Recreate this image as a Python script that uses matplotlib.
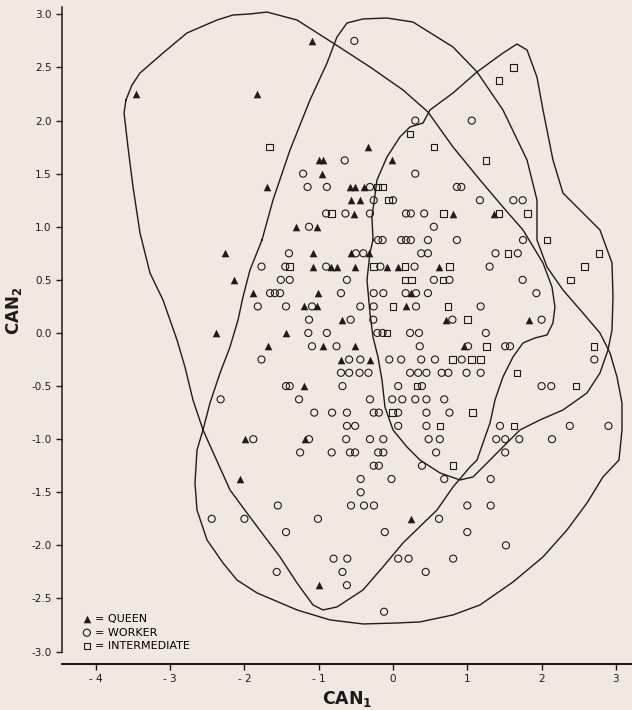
import numpy as np
import matplotlib.pyplot as plt

# canonical scores (CAN1, CAN2)
queen_x = [-3.46, -1.09, -1.83, -0.33, -1.00, -0.94, -0.01, -0.96, -1.69, -0.58, -0.51, -0.39,
           -0.56, -0.44, -0.52, 0.81, 1.36, -1.31, -1.02, -2.26, -1.07, -0.57, -0.32,
           -1.07, -0.83, -0.76, -0.51, -0.085, 0.07, 0.62, -2.14, -1.88, -1.01, 0.24,
           -1.20, -1.02, 0.18, -0.69, 0.72, 1.83, -2.38, -1.44, -1.68, -0.94, -0.51, 0.95,
           -0.70, -0.31, -1.20, -1.99, -1.18, -2.06, 0.24, -1.0]
queen_y = [2.25, 2.75, 2.25, 1.75, 1.625, 1.625, 1.625, 1.5, 1.375, 1.375, 1.375, 1.375,
           1.25, 1.25, 1.125, 1.125, 1.125, 1.0, 1.0, 0.75, 0.75, 0.75, 0.75,
           0.625, 0.625, 0.625, 0.625, 0.625, 0.625, 0.625, 0.5, 0.375, 0.375, 0.375,
           0.25, 0.25, 0.25, 0.125, 0.125, 0.125, 0.0, 0.0, -0.125, -0.125, -0.125, -0.125,
           -0.25, -0.25, -0.5, -1.0, -1.0, -1.375, -1.75, -2.375]

worker_x = [-0.52, 0.30, 1.06, -0.65, -1.21, 0.30,
            -1.15, -0.89, -0.31, 0.86, 0.92,
            -0.26, 0.0, 1.17, 1.62, 1.745,
            -0.90, -0.64, -0.31, 0.175, 0.24, 0.42,
            -1.13, 0.55,
            -0.20, -0.14, 0.11, 0.175, 0.24, 0.47, 0.86, 1.75,
            -1.40, -0.50, -0.40, 0.38, 0.47, 1.38, 1.68,
            -1.77, -1.45, -0.90, -0.17, 0.29, 1.30,
            -1.51, -1.39, -0.62, 0.55, 0.76, 1.745,
            -1.655, -1.59, -1.52, -0.70, -0.26, -0.13, 0.17, 0.31, 0.47, 1.93,
            -1.82, -1.44, -1.09, -0.44, -0.26, 0.31, 1.18,
            -1.13, -0.57, -0.265, 0.80, 2.0,
            -1.14, -0.89, -0.21, -0.14, 0.23, 0.35, 1.25,
            -1.09, -0.76, 0.36, 1.01, 1.51, 1.575,
            -1.77, -0.59, -0.44, -0.05, 0.11, 0.38, 0.565, 0.925, 2.71,
            -0.70, -0.59, -0.45, -0.33, 0.23, 0.34, 0.45, 0.655, 0.745, 0.99, 1.18,
            -1.44, -1.39, -0.68, 0.07, 0.39, 2.0, 2.13,
            -2.32, -1.265, -0.31, -0.01, 0.125, 0.30, 0.45, 0.69,
            -1.06, -0.82, -0.62, -0.26, -0.19, 0.07, 0.45, 0.76,
            -0.62, -0.51, 0.07, 0.45, 1.44, 2.38, 2.90,
            -1.88, -1.13, -0.63, -0.31, -0.13, 0.48, 0.63, 1.39, 1.51, 1.70, 2.14,
            -1.25, -0.825, -0.58, -0.51, -0.20, -0.13, 0.58, 1.51,
            -0.26, -0.19, 0.39,
            -0.435, -0.02, 0.69, 1.315,
            -0.435,
            -1.55, -0.565, -0.39, -0.256, 1.0, 1.315,
            -2.44, -2.0, -1.01, 0.62,
            -1.44, -0.11, 1.0,
            1.52,
            -0.80, -0.615, 0.07, 0.21, 0.81,
            -1.565, -0.68, 0.44,
            -0.62,
            -0.12]
worker_y = [2.75, 2.0, 2.0, 1.625, 1.5, 1.5,
            1.375, 1.375, 1.375, 1.375, 1.375,
            1.25, 1.25, 1.25, 1.25, 1.25,
            1.125, 1.125, 1.125, 1.125, 1.125, 1.125,
            1.0, 1.0,
            0.875, 0.875, 0.875, 0.875, 0.875, 0.875, 0.875, 0.875,
            0.75, 0.75, 0.75, 0.75, 0.75, 0.75, 0.75,
            0.625, 0.625, 0.625, 0.625, 0.625, 0.625,
            0.5, 0.5, 0.5, 0.5, 0.5, 0.5,
            0.375, 0.375, 0.375, 0.375, 0.375, 0.375, 0.375, 0.375, 0.375, 0.375,
            0.25, 0.25, 0.25, 0.25, 0.25, 0.25, 0.25,
            0.125, 0.125, 0.125, 0.125, 0.125,
            0.0, 0.0, 0.0, 0.0, 0.0, 0.0, 0.0,
            -0.125, -0.125, -0.125, -0.125, -0.125, -0.125,
            -0.25, -0.25, -0.25, -0.25, -0.25, -0.25, -0.25, -0.25, -0.25,
            -0.375, -0.375, -0.375, -0.375, -0.375, -0.375, -0.375, -0.375, -0.375, -0.375, -0.375,
            -0.5, -0.5, -0.5, -0.5, -0.5, -0.5, -0.5,
            -0.625, -0.625, -0.625, -0.625, -0.625, -0.625, -0.625, -0.625,
            -0.75, -0.75, -0.75, -0.75, -0.75, -0.75, -0.75, -0.75,
            -0.875, -0.875, -0.875, -0.875, -0.875, -0.875, -0.875,
            -1.0, -1.0, -1.0, -1.0, -1.0, -1.0, -1.0, -1.0, -1.0, -1.0, -1.0,
            -1.125, -1.125, -1.125, -1.125, -1.125, -1.125, -1.125, -1.125,
            -1.25, -1.25, -1.25,
            -1.375, -1.375, -1.375, -1.375,
            -1.5,
            -1.625, -1.625, -1.625, -1.625, -1.625, -1.625,
            -1.75, -1.75, -1.75, -1.75,
            -1.875, -1.875, -1.875,
            -2.0,
            -2.125, -2.125, -2.125, -2.125, -2.125,
            -2.25, -2.25, -2.25,
            -2.375,
            -2.625]

inter_x = [1.62, 1.43, 0.23, -1.66, 0.55, 1.25, -0.21, -0.14, -0.06,
           -0.83, 0.68, 1.43, 1.81, 2.07, 1.55, 2.77,
           -1.39, -0.265, 0.16, 0.76, 2.575, 0.16, 0.25, 0.67, 2.39,
           0.0, 0.74, 1.0, -0.08, 1.26, 2.705, 0.80, 1.06, 1.18, 1.67,
           0.32, 2.46, 1.07, -0.004, 0.63, 1.63, 0.81]
inter_y = [2.5, 2.375, 1.875, 1.75, 1.75, 1.625, 1.375, 1.375, 1.25,
           1.125, 1.125, 1.125, 1.125, 0.875, 0.75, 0.75,
           0.625, 0.625, 0.625, 0.625, 0.625, 0.5, 0.5, 0.5, 0.5,
           0.25, 0.25, 0.125, 0.0, -0.125, -0.125, -0.25, -0.25, -0.25, -0.375,
           -0.5, -0.5, -0.75, -0.75, -0.875, -0.875, -1.25]

# hand-drawn group outlines
queen_hull_x = [-3.594, -3.513, -3.405, -3.096, -2.773, -2.369, -2.153, -1.925, -1.696, -1.292,
                -0.808, -0.310, 0.135, 0.471, 0.808, 1.171, 1.480, 1.750, 2.019, 2.140,
                2.180, 2.153, 2.073, 1.911, 1.750, 1.615, 1.480, 1.373, 1.306, 1.211,
                1.131, 1.036, 0.808, 0.592, 0.135, -0.135, -0.404, -0.754, -0.942, -1.077,
                -1.292, -1.521, -1.925, -2.194, -2.436, -2.557, -2.692, -2.800, -2.907, -3.096,
                -3.271, -3.405, -3.499, -3.567, -3.620]
queen_hull_y = [2.194, 2.335, 2.448, 2.636, 2.825, 2.947, 2.994, 3.004, 3.022, 2.947,
                2.731, 2.505, 2.288, 2.081, 1.751, 1.441, 1.186, 0.970, 0.659, 0.433,
                0.245, 0.094, -0.019, -0.047, -0.094, -0.226, -0.414, -0.631, -0.847, -1.036,
                -1.196, -1.262, -1.450, -1.667, -1.977, -2.203, -2.420, -2.580, -2.608, -2.561,
                -2.354, -2.109, -1.733, -1.478, -1.102, -0.913, -0.631, -0.320, -0.066, 0.311,
                0.565, 0.942, 1.375, 1.751, 2.072]

worker_hull_x = [-1.763, -1.615, -1.386, -1.117, -0.888, -0.754, -0.619, -0.404, -0.081, 0.269,
                 0.808, 1.131, 1.480, 1.804, 1.938, 1.938, 2.073, 2.288, 2.557, 2.786,
                 2.921, 3.015, 3.082, 3.082, 3.042, 2.826, 2.611, 2.342, 2.019, 1.615,
                 1.171, 0.808, 0.363, 0.054, -0.404, -0.848, -1.292, -1.830, -2.100, -2.288,
                 -2.503, -2.638, -2.665, -2.638, -2.557, -2.463, -2.328, -2.194, -2.086, -2.019,
                 -1.925]
worker_hull_y = [0.876, 1.252, 1.723, 2.194, 2.542, 2.787, 2.919, 2.957, 2.966, 2.928,
                 2.693, 2.458, 2.100, 1.629, 1.252, 0.876, 0.621, 0.405, 0.188, 0.0,
                 -0.188, -0.414, -0.659, -0.913, -1.196, -1.356, -1.601, -1.855, -2.109, -2.345,
                 -2.561, -2.655, -2.721, -2.731, -2.740, -2.702, -2.608, -2.448, -2.326, -2.166,
                 -1.949, -1.667, -1.412, -1.102, -0.913, -0.659, -0.377, -0.132, 0.122, 0.339,
                 0.593]

inter_hull_x = [-0.269, -0.283, -0.215, -0.081, 0.094, 0.229, 0.404, 0.498, 0.808, 1.131,
                1.480, 1.669, 1.804, 1.938, 2.019, 2.153, 2.288, 2.517, 2.786, 2.948,
                2.961, 2.948, 2.894, 2.786, 2.611, 2.288, 1.978, 1.709, 1.480, 1.306,
                1.077, 0.902, 0.633, 0.363, 0.188, 0.0, -0.108, -0.148, -0.202, -0.269,
                -0.310, -0.350, -0.310]
inter_hull_y = [0.876, 1.092, 1.441, 1.657, 1.846, 1.940, 1.977, 2.100, 2.260, 2.458,
                2.636, 2.721, 2.665, 2.410, 2.100, 1.629, 1.318, 1.158, 0.970, 0.659,
                0.339, 0.028, -0.160, -0.377, -0.565, -0.725, -0.819, -0.913, -1.073, -1.196,
                -1.356, -1.384, -1.318, -1.196, -1.073, -0.913, -0.697, -0.443, -0.226, -0.038,
                0.188, 0.499, 0.753]

xticks = [-4, -3, -2, -1, 0, 1, 2, 3]
yticks = [-3.0, -2.5, -2.0, -1.5, -1.0, -0.5, 0.0, 0.5, 1.0, 1.5, 2.0, 2.5, 3.0]

bg = '#f0e9e1'
ink = '#1c1c1c'
plt.rcParams['mathtext.default'] = 'bf'

fig = plt.figure(figsize=(6.32, 7.10), dpi=100, facecolor=bg)
ax = fig.add_axes([0.0981, 0.0648, 0.9019, 0.9296], facecolor=bg)

for hx, hy in [(queen_hull_x, queen_hull_y), (worker_hull_x, worker_hull_y),
               (inter_hull_x, inter_hull_y)]:
    ax.plot(hx + hx[:1], hy + hy[:1], color=ink, lw=1.0, solid_joinstyle='round')

ax.scatter(worker_x, worker_y, marker='o', s=26, facecolors='none', edgecolors=ink,
           linewidths=0.8, label='= WORKER', zorder=3)
ax.scatter(inter_x, inter_y, marker='s', s=22, facecolors='none', edgecolors=ink,
           linewidths=0.8, label='= INTERMEDIATE', zorder=3)
ax.scatter(queen_x, queen_y, marker='^', s=30, color=ink, linewidths=0,
           label='= QUEEN', zorder=4)

ax.set_xlim(-4.455, 3.217)
ax.set_ylim(-3.117, 3.098)
ax.set_xticks(xticks)
ax.set_xticklabels(['- %d' % -t if t < 0 else '%d' % t for t in xticks])
ax.set_yticks(yticks)
ax.set_yticklabels(['%.1f' % t for t in yticks])
ax.tick_params(direction='out', length=4, width=1, colors=ink, labelsize=7.5)

for s in ['top', 'right']:
    ax.spines[s].set_visible(False)
ax.spines['left'].set_bounds(-3.0, 3.07)
ax.spines['left'].set_linewidth(1.1)
ax.spines['bottom'].set_linewidth(1.5)
for s in ['left', 'bottom']:
    ax.spines[s].set_color(ink)

ax.set_xlabel('CAN$_1$', fontsize=12.5, fontweight='bold', color=ink, labelpad=3)
ax.set_ylabel('CAN$_2$', fontsize=12, fontweight='bold', color=ink)
ax.yaxis.set_label_coords(-0.066, 0.535)

h, l = ax.get_legend_handles_labels()
order = [2, 0, 1]
ax.legend([h[i] for i in order], [l[i] for i in order], loc='lower left',
          bbox_to_anchor=(0.028, 0.013), frameon=False, fontsize=8,
          handletextpad=0.3, labelspacing=0.3, borderaxespad=0, handlelength=0.8)

fig.savefig('out.png', dpi=100, facecolor=bg)
